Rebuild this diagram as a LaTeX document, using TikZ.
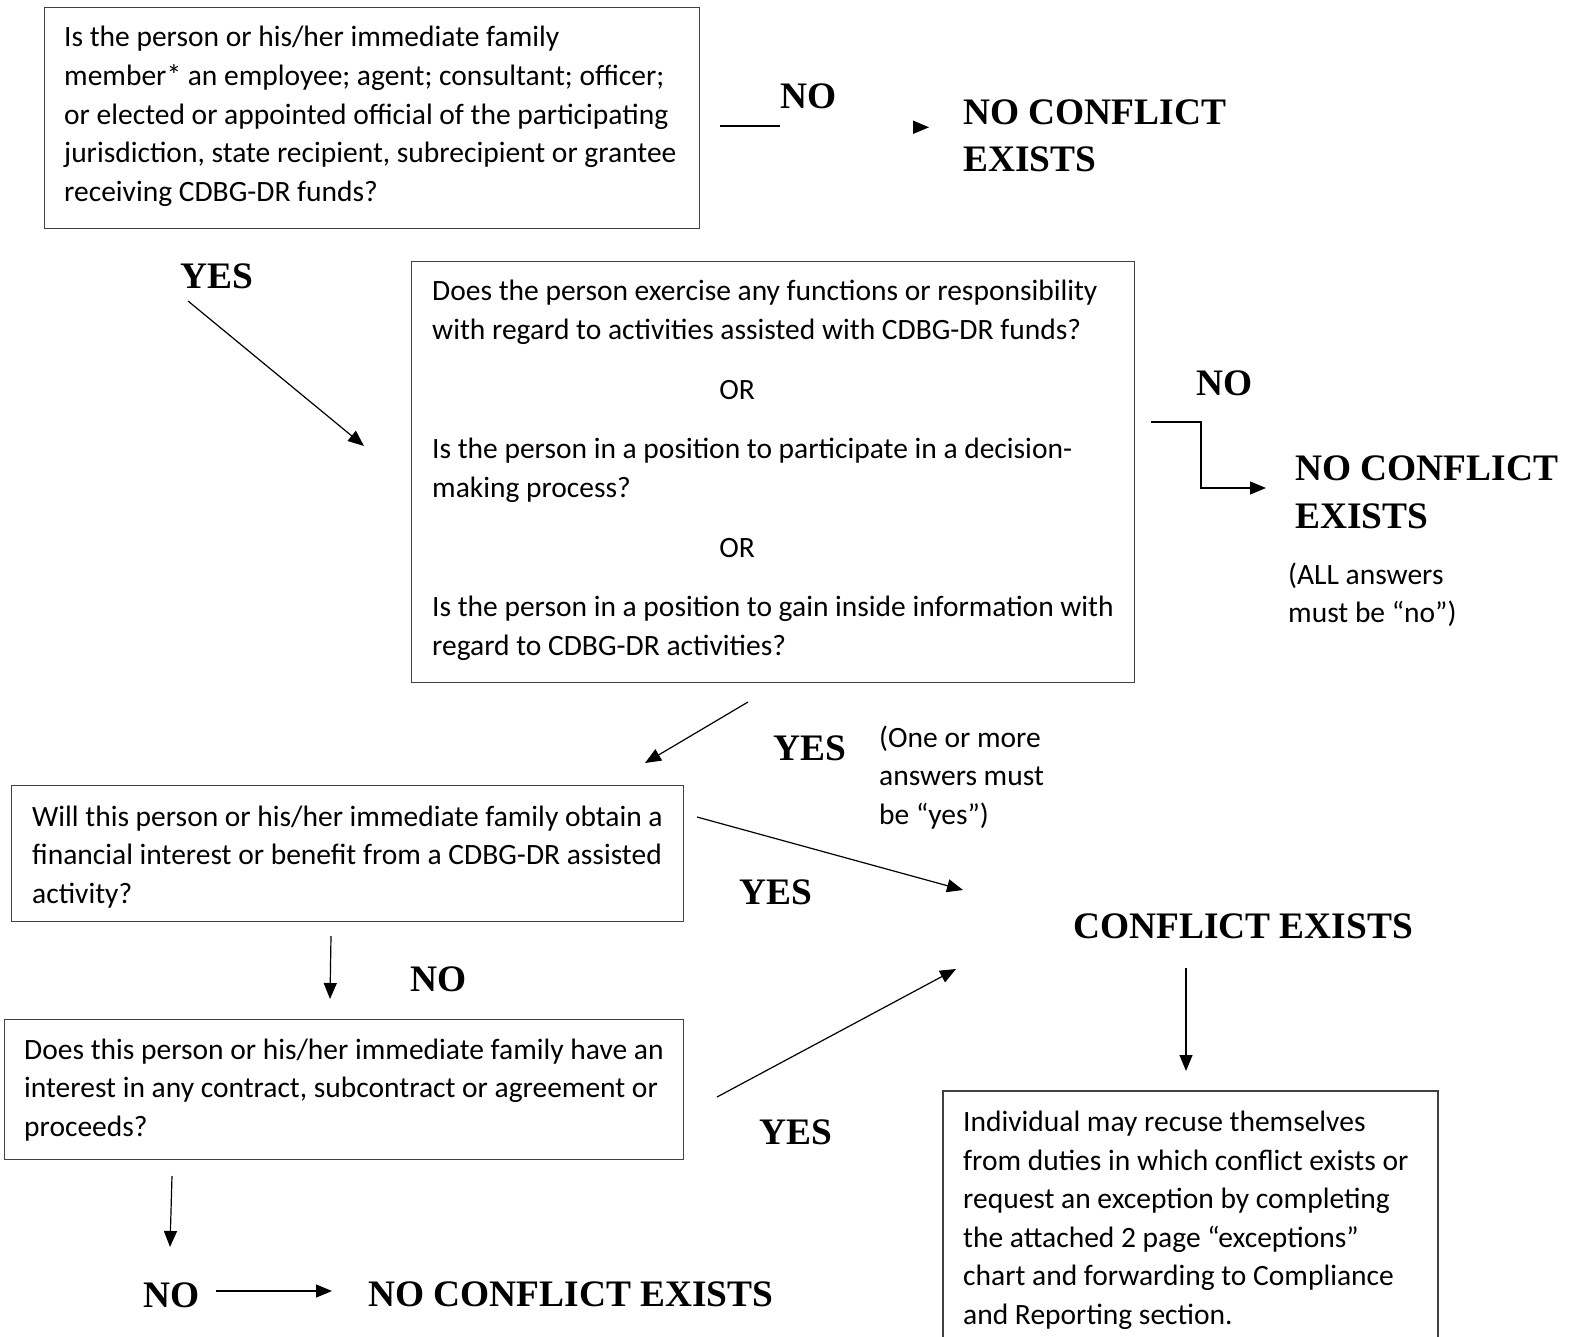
\documentclass[tikz,border=0pt]{standalone}
\usepackage{fontspec}
\setmainfont{Carlito}
\newfontfamily\lblfont{Liberation Serif}
\usetikzlibrary{arrows.meta}
\tikzset{
  qbox/.style={draw=black!75, line width=1.3pt, inner sep=0pt, anchor=north west},
  qtext/.style={anchor=base west, inner sep=0pt, font=\fontsize{29.5}{38.6}\selectfont},
  lbl/.style={anchor=base west, inner sep=0pt, font=\lblfont\bfseries\fontsize{37.4}{47}\selectfont},
  arr/.style={line width=1.2pt, -{Triangle[length=16pt,width=13pt]}},
  plain/.style={line width=1.2pt}
}
\begin{document}
\begin{tikzpicture}[x=1pt,y=-1pt]
\useasboundingbox (0,0) rectangle (1570,1337);
% boxes
\node[qbox, minimum width=655pt, minimum height=221pt] (b1) at (44,7) {};
\node[qbox, minimum width=723pt, minimum height=421pt] (b2) at (411,261) {};
\node[qbox, minimum width=672pt, minimum height=136pt] (b3) at (11,785) {};
\node[qbox, minimum width=679pt, minimum height=140pt] (b4) at (4,1019) {};
\draw[draw=black!75, line width=1.3pt] (943,1345) -- (943,1091) -- (1438,1091) -- (1438,1345);
% box texts
\node[qtext] (t1) at (64,47) {\vtop{\baselineskip=38.6pt
  \hbox{Is the person or his/her immediate family}
  \hbox{member* an employee; agent; consultant; officer;}
  \hbox{or elected or appointed official of the participating}
  \hbox{jurisdiction, state recipient, subrecipient or grantee}
  \hbox{receiving CDBG-DR funds?}}};
\node[qtext] (t2) at (432,301) {\vtop{\baselineskip=38.6pt
  \hbox{Does the person exercise any functions or responsibility}
  \hbox{with regard to activities assisted with CDBG-DR funds?}
  \vskip 21pt
  \hbox to 610pt{\hfil OR\hfil}
  \vskip 21pt
  \hbox{Is the person in a position to participate in a decision-}
  \hbox{making process?}
  \vskip 21pt
  \hbox to 610pt{\hfil OR\hfil}
  \vskip 21pt
  \hbox{Is the person in a position to gain inside information with}
  \hbox{regard to CDBG-DR activities?}}};
\node[qtext] (t3) at (32,826) {\vtop{\baselineskip=38.6pt
  \hbox{Will this person or his/her immediate family obtain a}
  \hbox{financial interest or benefit from a CDBG-DR assisted}
  \hbox{activity?}}};
\node[qtext] (t4) at (24,1059) {\vtop{\baselineskip=38.6pt
  \hbox{Does this person or his/her immediate family have an}
  \hbox{interest in any contract, subcontract or agreement or}
  \hbox{proceeds?}}};
\node[qtext] (t5) at (963,1131.5) {\vtop{\baselineskip=38.6pt
  \hbox{Individual may recuse themselves}
  \hbox{from duties in which conflict exists or}
  \hbox{request an exception by completing}
  \hbox{the attached 2 page “exceptions”}
  \hbox{chart and forwarding to Compliance}
  \hbox{and Reporting section.}}};
\node[qtext] (n1) at (1288,584) {\vtop{\baselineskip=38.6pt
  \hbox{(ALL answers}
  \hbox{must be “no”)}}};
\node[qtext] (n2) at (879,747) {\vtop{\baselineskip=38.6pt
  \hbox{(One or more}
  \hbox{answers must}
  \hbox{be “yes”)}}};
% bold labels
\node[lbl] (no1) at (780,109) {NO};
\node[lbl] (nc1) at (963,125) {\vtop{\baselineskip=47pt\hbox{NO CONFLICT}\hbox{EXISTS}}};
\node[lbl] (yes1) at (180,289) {YES};
\node[lbl] (no2) at (1196,395) {NO};
\node[lbl] (nc2) at (1295,480) {\vtop{\baselineskip=48pt\hbox{NO CONFLICT}\hbox{EXISTS}}};
\node[lbl] (yes2) at (773,760) {YES};
\node[lbl] (yes3) at (739,904) {YES};
\node[lbl] (ce) at (1073,938) {CONFLICT EXISTS};
\node[lbl] (no3) at (410,991) {NO};
\node[lbl] (yes4) at (759,1144) {YES};
\node[lbl] (no4) at (143,1307) {NO};
\node[lbl] (nc3) at (368,1306) {NO CONFLICT EXISTS};
% connector end points
\coordinate (a1s) at (720,126);
\coordinate (a1e) at (780,126);
\coordinate (h1a) at (913,120.5);
\coordinate (h1b) at (913,134);
\coordinate (h1c) at (929,127.3);
\coordinate (a2s) at (188,301);
\coordinate (a2e) at (364,446);
\coordinate (a3s) at (1151,422);
\coordinate (a3m) at (1201,422);
\coordinate (a3n) at (1201,488);
\coordinate (a3e) at (1266,488);
\coordinate (a4s) at (748,702);
\coordinate (a4e) at (645,763);
\coordinate (a5s) at (697,817);
\coordinate (a5e) at (963,890);
\coordinate (a6s) at (331,936);
\coordinate (a6e) at (330,999);
\coordinate (a7s) at (717,1097);
\coordinate (a7e) at (956,969);
\coordinate (a8s) at (1186,968);
\coordinate (a8e) at (1186,1071);
\coordinate (a9s) at (172,1176);
\coordinate (a9e) at (170,1247);
\coordinate (a10s) at (216,1291);
\coordinate (a10e) at (332,1291);
% connectors
\draw[plain] (a1s) -- (a1e);
\fill (h1a) -- (h1b) -- (h1c) -- cycle;
\draw[arr] (a2s) -- (a2e);
\draw[arr] (a3s) -- (a3m) -- (a3n) -- (a3e);
\draw[arr] (a4s) -- (a4e);
\draw[arr] (a5s) -- (a5e);
\draw[arr] (a6s) -- (a6e);
\draw[arr] (a7s) -- (a7e);
\draw[arr] (a8s) -- (a8e);
\draw[arr] (a9s) -- (a9e);
\draw[arr] (a10s) -- (a10e);
\end{tikzpicture}
\end{document}
